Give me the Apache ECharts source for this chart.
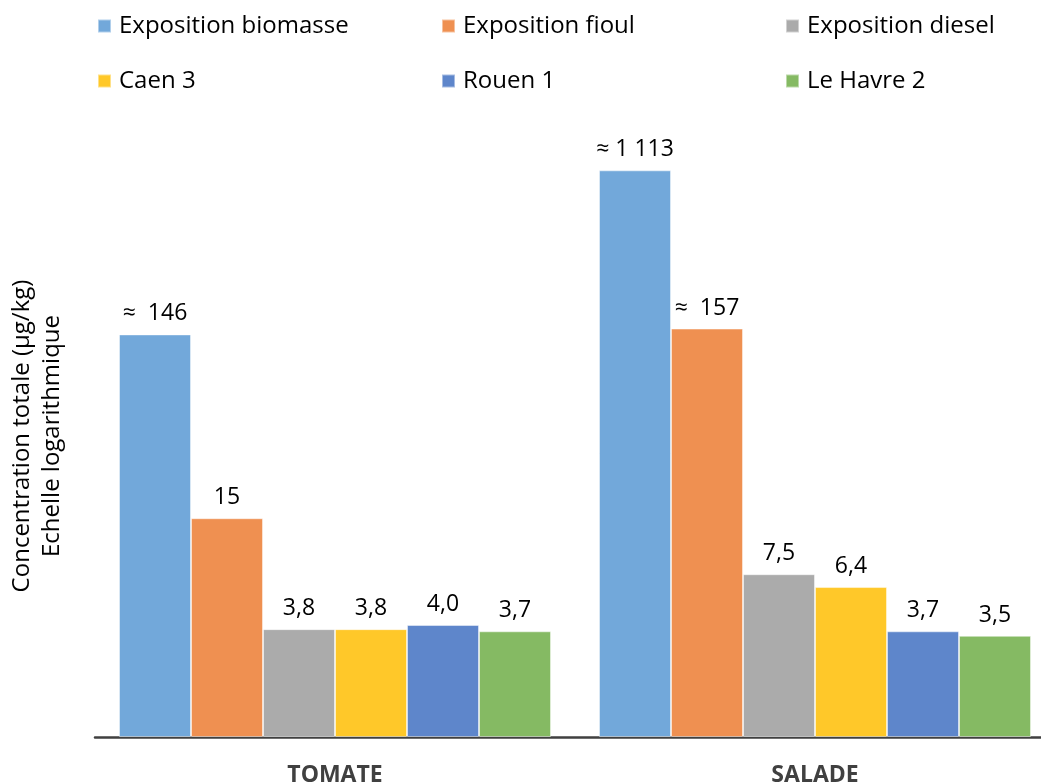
<!DOCTYPE html>
<html>
<head>
<meta charset="utf-8">
<script src="https://cdn.jsdelivr.net/npm/echarts@6/dist/echarts.min.js"></script>
<style>html,body{margin:0;padding:0;background:#fff}#c{width:1041px;height:784px}</style>
</head>
<body>
<div id="c"></div>
<script>
var categories = ["TOMATE", "SALADE"];
var seriesNames = ["Exposition biomasse", "Exposition fioul", "Exposition diesel", "Caen 3", "Rouen 1", "Le Havre 2"];
var biomasse = [146, 1113];
var fioul = [15, 157];
var diesel = [3.8, 7.5];
var caen3 = [3.8, 6.4];
var rouen1 = [4.0, 3.7];
var havre2 = [3.7, 3.5];
var labelsBiomasse = ["\u2248  146", "\u2248 1 113"];
var labelsFioul = ["15", "\u2248  157"];
var labelsDiesel = ["3,8", "7,5"];
var labelsCaen3 = ["3,8", "6,4"];
var labelsRouen1 = ["4,0", "3,7"];
var labelsHavre2 = ["3,7", "3,5"];
var yTitle = "Concentration totale (\u00b5g/kg)\nEchelle logarithmique";

var values = [biomasse, fioul, diesel, caen3, rouen1, havre2];
var labels = [labelsBiomasse, labelsFioul, labelsDiesel, labelsCaen3, labelsRouen1, labelsHavre2];
var colors = ["#72A8DA", "#EF9051", "#ABABAB", "#FFC829", "#5E86CB", "#85BA63"];
var FONT = "'Open Sans', 'Noto Sans', sans-serif";

var legendPos = [[97, 14], [441, 14], [785, 14], [97, 69], [441, 69], [785, 69]];
var legends = seriesNames.map(function (n, i) {
  return {
    data: [n], left: legendPos[i][0], top: legendPos[i][1],
    itemWidth: 13, itemHeight: 13, icon: 'rect', padding: 0,
    textStyle: { fontFamily: FONT, fontSize: 24, color: '#000', padding: [0, 0, 0, 3] }
  };
});

var series = seriesNames.map(function (n, i) {
  return {
    name: n, type: 'bar', data: values[i],
    barGap: 0, barCategoryGap: '10%',
    itemStyle: { color: colors[i], borderColor: 'rgba(255,255,255,0.45)', borderWidth: 1 },
    label: {
      show: true, position: 'top', distance: 9,
      fontFamily: FONT, fontSize: 23, color: '#000',
      formatter: function (p) { return labels[i][p.dataIndex]; }
    }
  };
});

var chart = echarts.init(document.getElementById('c'));
chart.setOption({
  animation: false,
  backgroundColor: '#fff',
  legend: legends,
  grid: { left: 95, right: -14, top: 86, bottom: 47, containLabel: false, outerBoundsMode: 'none' },
  xAxis: {
    type: 'category', data: categories,
    axisLine: { lineStyle: { color: '#404040', width: 2.5 } },
    axisTick: { show: false },
    axisLabel: { fontFamily: FONT, fontSize: 23, fontWeight: 'bold', color: '#404040', margin: 27 }
  },
  yAxis: {
    type: 'log', logBase: 10, min: 1, max: Math.pow(10, 3.5),
    axisLine: { show: false }, axisTick: { show: false }, axisLabel: { show: false },
    splitLine: { show: false }
  },
  graphic: [{
    type: 'text', x: 37, y: 436, rotation: Math.PI / 2,
    style: {
      text: yTitle, fontFamily: FONT, fontSize: 24, fill: '#000', lineHeight: 30,
      align: 'center', verticalAlign: 'middle'
    }
  }],
  series: series
});
</script>
</body>
</html>
